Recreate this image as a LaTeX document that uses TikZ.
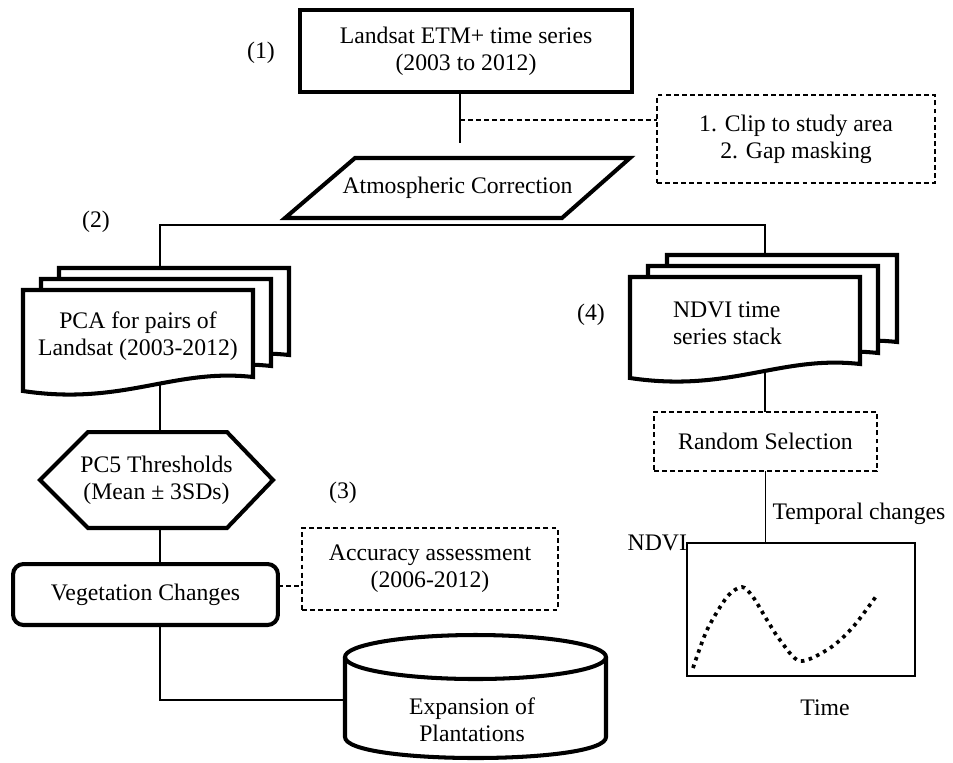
\documentclass[tikz,border=0pt]{standalone}
\usepackage{fontspec}
\setmainfont{Liberation Serif}
\usetikzlibrary{calc}

\tikzset{pics/docpage/.style={code={
  \draw[page] (0,0) -- (230,0) -- (230,87) .. controls (150,78) and (100,116) .. (0,101) -- cycle;
}}}

\begin{document}
\begin{tikzpicture}[x=0.02cm,y=-0.02cm,font=\fontsize{13.5}{15.5}\selectfont]
\tikzstyle{boxline}=[line width=2.3pt]
\tikzstyle{link}=[line width=0.8pt]
\tikzstyle{dashlink}=[line width=0.8pt, dash pattern=on 2.8pt off 1.8pt]
\tikzstyle{plain}=[inner sep=0pt, outer sep=0pt, align=center]
\tikzstyle{dashbox}=[draw, dashlink, plain]
\tikzstyle{page}=[boxline, fill=white]
\tikzstyle{curve}=[line width=2.1pt, dash pattern=on 2pt off 2.6pt]
\useasboundingbox (0,0) rectangle (953,762);

% step 1
\node[draw, boxline, plain, minimum width=6.64cm, minimum height=1.64cm] (ser) at (466,51) {Landsat ETM+ time series\\(2003 to 2012)};
\node (l1) at (261,53) {(1)};
\node[dashbox, minimum width=5.56cm, minimum height=1.76cm] (pre) at (796,139) {1. Clip to study area\\2. Gap masking};
\node[plain, minimum width=6.9cm, minimum height=1.2cm] (atm) at (457.5,188) {Atmospheric Correction};
\draw[boxline] (atm.south west) -- ($(atm.north west)+(70,0)$) -- (atm.north east) -- ($(atm.south east)+(-68,0)$) -- cycle;

% step 2
\node (l2) at (96,222) {(2)};
\pic at (59,268) {docpage};
\pic at (41,279) {docpage};
\pic at (23,290) {docpage};
\node[plain] (pca) at (138,336) {PCA for pairs of\\Landsat (2003-2012)};
\node[plain, minimum width=4.66cm, minimum height=1.92cm] (thr) at (156.5,480) {PC5 Thresholds\\(Mean ± 3SDs)};
\draw[boxline] (thr.west) -- ($(thr.north west)+(48,0)$) -- ($(thr.north east)+(-46,0)$) -- (thr.east)
  -- ($(thr.south east)+(-46,0)$) -- ($(thr.south west)+(48,0)$) -- cycle;
\node[draw, boxline, plain, rounded corners=6pt, minimum width=5.3cm, minimum height=1.22cm] (veg) at (145.5,594.5) {Vegetation Changes};

% step 3
\node (l3) at (343,493) {(3)};
\node[dashbox, minimum width=5.12cm, minimum height=1.64cm] (acc) at (430,569) {Accuracy assessment\\(2006-2012)};
\draw[boxline] (345,657) -- (345,737) .. controls (345,765) and (606,765) .. (606,737) -- (606,657);
\draw[boxline] (475.5,657) ellipse [x radius=130.5, y radius=22];
\node[plain] (exp) at (472,720) {Expansion of\\Plantations};

% step 4
\node (l4) at (591,315) {(4)};
\pic at (667,255) {docpage};
\pic at (648,266) {docpage};
\pic at (630,277) {docpage};
\node[plain, align=left, anchor=west] (ndvi) at (673,323) {NDVI time\\series stack};
\node[dashbox, minimum width=4.46cm, minimum height=1.18cm] (rnd) at (765.5,441.5) {Random Selection};
\node[draw, link, plain, minimum width=4.56cm, minimum height=2.66cm] (chart) at (801,609.5) {};
\node[plain, anchor=east] (ylab) at (chart.north west) {NDVI};
\node[plain] (xlab) at (825,708) {Time};
\draw[curve] plot[smooth] coordinates {(693,668) (707,630) (727,597) (742,587) (753,597) (767,620)
  (780,640) (800,661) (830,648) (853,627) (877,595)};

% connectors
\coordinate (tap) at (460,120);
\coordinate (tapend) at (460,143);
\coordinate (fork) at (460,225);
\coordinate (pcatop) at (160,268);
\coordinate (pcabot) at (160,384);
\coordinate (ndvitop) at (765,253);
\coordinate (ndvibot) at (765,371);
\coordinate (accy) at (300,586);
\coordinate (cylw) at (345,700);
\draw[link] (ser.south -| tap) -- (tapend);
\draw[dashlink] (tap) -- (pre.west |- tap);
\draw[link] (pcatop) |- (fork) -| (ndvitop);
\draw[link] (pcabot) -- (thr.north -| pcabot);
\draw[link] (thr.south -| pcabot) -- (veg.north -| pcabot);
\draw[dashlink] (veg.east |- accy) -- (acc.west |- accy);
\draw[link] (veg.south -| pcabot) |- (cylw);
\draw[link] (ndvibot) -- (rnd.north -| ndvibot);
\draw[link] (rnd.south) -- node[plain, pos=0.6, right=4pt] (tlab) {Temporal changes} (chart.north -| rnd.south);
\end{tikzpicture}
\end{document}
